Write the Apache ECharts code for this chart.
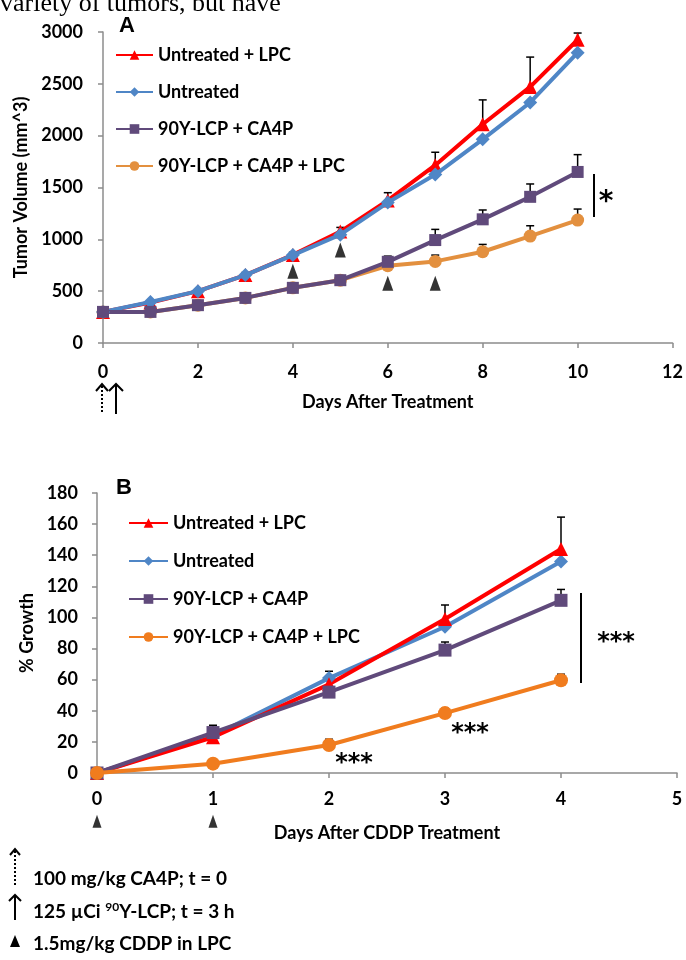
<!DOCTYPE html>
<html>
<head>
<meta charset="utf-8" />
<title>tumor growth</title>
<script src="https://cdn.jsdelivr.net/npm/echarts@6/dist/echarts.min.js"></script>
<style>
html,body{margin:0;padding:0;background:#fff;}
#chart{width:686px;height:960px;}
</style>
</head>
<body>
<div id="chart"></div>
<script>
var seriesNames = ['Untreated + LPC', 'Untreated', '90Y-LCP + CA4P', '90Y-LCP + CA4P + LPC'];

// ---- panel A : tumor volume (mm^3) ----
var daysA = [0, 1, 2, 3, 4, 5, 6, 7, 8, 9, 10];
var untreatedLpcA = [300, 390, 500, 655, 850, 1075, 1375, 1715, 2110, 2470, 2925];
var untreatedA    = [300, 395, 500, 655, 848, 1045, 1355, 1625, 1965, 2320, 2800];
var y90Ca4pA      = [300, 300, 365, 435, 532, 606, 783, 993, 1193, 1410, 1650];
var y90Ca4pLpcA   = [300, 300, 365, 435, 532, 606, 745, 787, 880, 1031, 1186];
// upper error bar tops: [day, top]
var errRedA    = [[3, 680], [4, 875], [5, 1115], [6, 1450], [7, 1840], [8, 2345], [9, 2758], [10, 2990]];
var errPurpleA = [[6, 838], [7, 1096], [8, 1283], [9, 1534], [10, 1817]];
var errOrangeA = [[6, 770], [7, 848], [8, 951], [9, 1131], [10, 1292]];
// CDDP dose markers (arrowheads)
var cddpA = [[4, 693], [5, 896], [6, 577], [7, 577]];

// ---- panel B : % growth ----
var daysB = [0, 1, 2, 3, 4];
var untreatedLpcB = [0, 23, 57, 99, 144];
var untreatedB    = [0, 24, 61, 94, 136];
var y90Ca4pB      = [0, 26, 52, 79, 111];
var y90Ca4pLpcB   = [0, 6, 18, 38.5, 59.6];
var errRedB    = [[3, 108], [4, 164.5]];
var errBlueB   = [[1, 29], [2, 65.4]];
var errPurpleB = [[1, 30.7], [3, 84.2], [4, 118]];
var errOrangeB = [[2, 21.7], [3, 41.5], [4, 63.5]];
var cddpB = [[0, -31], [1, -31]];

var colRed = '#ff0000', colBlue = '#4f86c6', colPurple = '#604a7b';
var colOrangeA = '#e3903f', colOrangeB = '#f07c1e';
var FONT = 'Lato';

function pairs(xs, ys) {
	return xs.map(function (x, i) { return [x, ys[i]]; });
}
function errData(xs, ys, tops) {
	return tops.map(function (t) { return [t[0], ys[xs.indexOf(t[0])], t[1]]; });
}
function errRender(params, api) {
	var p0 = api.coord([api.value(0), api.value(1)]);
	var p1 = api.coord([api.value(0), api.value(2)]);
	var h = 4;
	return {
		type: 'group',
		children: [
			{type: 'line', shape: {x1: p0[0], y1: p0[1], x2: p1[0], y2: p1[1]}, style: {stroke: '#000', lineWidth: 1.5}},
			{type: 'line', shape: {x1: p1[0] - h, y1: p1[1], x2: p1[0] + h, y2: p1[1]}, style: {stroke: '#000', lineWidth: 1.5}}
		]
	};
}
function lineSeries(name, idx, data, color, symbol, size, z) {
	return {
		name: name, type: 'line', xAxisIndex: idx, yAxisIndex: idx, data: data,
		symbol: symbol, symbolSize: size, showAllSymbol: true, z: z,
		lineStyle: {color: color, width: 4},
		itemStyle: {color: color},
		emphasis: {disabled: true}
	};
}
function errSeries(idx, data) {
	return {
		type: 'custom', xAxisIndex: idx, yAxisIndex: idx, renderItem: errRender,
		data: data, encode: {x: 0, y: [1, 2]}, z: 1, silent: true, clip: false
	};
}
function axisBase(margin) {
	return {
		axisLine: {show: true, lineStyle: {color: '#8c8c8c', width: 1.5}},
		axisTick: {show: true, length: 5, lineStyle: {color: '#8c8c8c', width: 1.5}},
		splitLine: {show: false},
		axisLabel: {color: '#000', fontFamily: FONT, fontWeight: 'bold', fontSize: 18, margin: margin,
			formatter: function (v) { return String(v); }},
		nameTextStyle: {color: '#000', fontFamily: FONT, fontWeight: 'bold', fontSize: 18}
	};
}
function mk(base, extra) {
	for (var k in extra) base[k] = extra[k];
	return base;
}

var chart = echarts.init(document.getElementById('chart'));

var legendText = {color: '#000', fontFamily: FONT, fontWeight: 'bold', fontSize: 18, lineHeight: 20};
var namesB = seriesNames.map(function (n) { return n + '\u200b'; });

var option = {
	animation: false,
	backgroundColor: '#fff',
	grid: [
		{left: 103, right: 12, top: 32, bottom: 617},
		{left: 97, right: 9, top: 493, bottom: 187}
	],
	xAxis: [
		mk(axisBase(20), {type: 'value', gridIndex: 0, min: 0, max: 12, interval: 2,
			name: 'Days After Treatment', nameLocation: 'middle', nameGap: 50}),
		mk(axisBase(17), {type: 'value', gridIndex: 1, min: 0, max: 5, interval: 1,
			name: 'Days After CDDP Treatment', nameLocation: 'middle', nameGap: 51})
	],
	yAxis: [
		mk(axisBase(20), {type: 'value', gridIndex: 0, min: 0, max: 3000, interval: 500,
			name: 'Tumor Volume (mm^3)', nameLocation: 'middle', nameGap: 73}),
		mk(axisBase(19), {type: 'value', gridIndex: 1, min: 0, max: 180, interval: 20,
			name: '% Growth', nameLocation: 'middle', nameGap: 61})
	],
	legend: [
		{data: seriesNames, orient: 'vertical', left: 110, top: 40, itemWidth: 37, itemHeight: 12,
			itemGap: 17, selectedMode: false, textStyle: legendText},
		{data: namesB, orient: 'vertical', left: 123, top: 508, itemWidth: 39, itemHeight: 12,
			itemGap: 18, selectedMode: false, textStyle: legendText,
			formatter: function (n) { return n.replace('\u200b', ''); }}
	],
	series: [
		errSeries(0, errData(daysA, untreatedLpcA, errRedA)),
		errSeries(0, errData(daysA, y90Ca4pA, errPurpleA)),
		errSeries(0, errData(daysA, y90Ca4pLpcA, errOrangeA)),
		lineSeries(seriesNames[0], 0, pairs(daysA, untreatedLpcA), colRed, 'triangle', 14, 3),
		lineSeries(seriesNames[1], 0, pairs(daysA, untreatedA), colBlue, 'diamond', 14, 4),
		lineSeries(seriesNames[3], 0, pairs(daysA, y90Ca4pLpcA), colOrangeA, 'circle', 13, 3),
		lineSeries(seriesNames[2], 0, pairs(daysA, y90Ca4pA), colPurple, 'rect', 12, 4),
		{type: 'scatter', xAxisIndex: 0, yAxisIndex: 0, data: cddpA, symbol: 'triangle',
			symbolSize: [11, 15], itemStyle: {color: '#000'}, z: 6, silent: true},

		errSeries(1, errData(daysB, untreatedLpcB, errRedB)),
		errSeries(1, errData(daysB, untreatedB, errBlueB)),
		errSeries(1, errData(daysB, y90Ca4pB, errPurpleB)),
		errSeries(1, errData(daysB, y90Ca4pLpcB, errOrangeB)),
		lineSeries(namesB[1], 1, pairs(daysB, untreatedB), colBlue, 'diamond', 14, 3),
		lineSeries(namesB[0], 1, pairs(daysB, untreatedLpcB), colRed, 'triangle', 14, 3),
		lineSeries(namesB[2], 1, pairs(daysB, y90Ca4pB), colPurple, 'rect', 13, 4),
		lineSeries(namesB[3], 1, pairs(daysB, y90Ca4pLpcB), colOrangeB, 'circle', 14, 5),
		{type: 'scatter', xAxisIndex: 1, yAxisIndex: 1, data: cddpB, symbol: 'triangle',
			symbolSize: [9, 13], itemStyle: {color: '#000'}, z: 6, silent: true, clip: false}
	],
	graphic: [
		{type: 'text', left: 0, top: -9, silent: true,
			style: {text: 'variety of tumors, but have', font: '26px "Liberation Serif"', fill: '#000'}},
		{type: 'text', left: 119, top: 15, silent: true,
			style: {text: 'A', font: 'bold 22px "Liberation Sans"', fill: '#000'}},
		{type: 'text', left: 116, top: 477, silent: true,
			style: {text: 'B', font: 'bold 22px "Liberation Sans"', fill: '#000'}},
		// significance brackets
		{type: 'line', silent: true, shape: {x1: 594, y1: 174, x2: 594, y2: 217}, style: {stroke: '#000', lineWidth: 2}},
		{type: 'text', silent: true, x: 606, y: 203, style: {text: '*', font: 'bold 28px "DejaVu Sans"', fill: '#000', align: 'center', verticalAlign: 'middle'}},
		{type: 'line', silent: true, shape: {x1: 581, y1: 593, x2: 581, y2: 683}, style: {stroke: '#000', lineWidth: 2}},
		{type: 'text', silent: true, x: 616, y: 643, style: {text: '***', font: 'bold 24px "DejaVu Sans"', fill: '#000', align: 'center', verticalAlign: 'middle'}},
		{type: 'text', silent: true, x: 354, y: 764, style: {text: '***', font: 'bold 24px "DejaVu Sans"', fill: '#000', align: 'center', verticalAlign: 'middle'}},
		{type: 'text', silent: true, x: 470, y: 734, style: {text: '***', font: 'bold 24px "DejaVu Sans"', fill: '#000', align: 'center', verticalAlign: 'middle'}},
		// treatment arrows under panel A
		{type: 'line', silent: true, shape: {x1: 102, y1: 386, x2: 102, y2: 414}, style: {stroke: '#000', lineWidth: 2, lineDash: [2, 2]}},
		{type: 'polyline', silent: true, shape: {points: [[96, 391], [102, 384], [108, 391]]}, style: {stroke: '#000', lineWidth: 2, fill: null}},
		{type: 'line', silent: true, shape: {x1: 116, y1: 385, x2: 116, y2: 414}, style: {stroke: '#000', lineWidth: 2}},
		{type: 'polyline', silent: true, shape: {points: [[109, 391], [116, 384], [123, 391]]}, style: {stroke: '#000', lineWidth: 2, fill: null}},
		// bottom key
		{type: 'line', silent: true, shape: {x1: 15, y1: 851, x2: 15, y2: 887}, style: {stroke: '#000', lineWidth: 2, lineDash: [2, 2]}},
		{type: 'polyline', silent: true, shape: {points: [[10, 855], [15, 849], [20, 855]]}, style: {stroke: '#000', lineWidth: 2, fill: null}},
		{type: 'line', silent: true, shape: {x1: 15, y1: 896, x2: 15, y2: 920}, style: {stroke: '#000', lineWidth: 2}},
		{type: 'polyline', silent: true, shape: {points: [[9, 901], [15, 895], [21, 901]]}, style: {stroke: '#000', lineWidth: 2, fill: null}},
		{type: 'polygon', silent: true, shape: {points: [[15, 935], [10, 947], [20, 947]]}, style: {fill: '#000'}},
		{type: 'text', silent: true, x: 33, y: 879,
			style: {text: '100 mg/kg CA4P; t = 0', font: 'bold 19px Lato', fill: '#000', verticalAlign: 'middle'}},
		{type: 'text', silent: true, x: 33, y: 912,
			style: {text: '{a|125 \u00b5Ci }{s|90}{a|Y-LCP; t = 3 h}', verticalAlign: 'middle',
				rich: {
					a: {fontFamily: FONT, fontWeight: 'bold', fontSize: 19, fill: '#000', lineHeight: 22},
					s: {fontFamily: FONT, fontWeight: 'bold', fontSize: 12, fill: '#000', lineHeight: 22, verticalAlign: 'top', padding: [0, 0, 8, 0]}
				}}},
		{type: 'text', silent: true, x: 33, y: 944,
			style: {text: '1.5mg/kg CDDP in LPC', font: 'bold 19px Lato', fill: '#000', verticalAlign: 'middle'}}
	]
};
chart.setOption(option);
</script>
</body>
</html>
